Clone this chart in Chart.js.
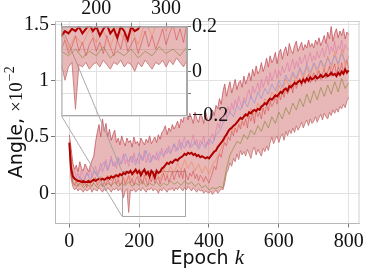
<!DOCTYPE html>
<html><head><meta charset="utf-8">
<script src="https://cdn.jsdelivr.net/npm/chart.js@4.4.0/dist/chart.umd.min.js"></script>
<style>
html,body{margin:0;padding:0;background:#fff;}
#wrap{position:relative;width:366px;height:272px;}
#wrap canvas{position:absolute;left:0;top:0;}
</style></head><body>
<div id="wrap"><canvas id="main" width="366" height="272"></canvas><canvas id="inset" width="366" height="272"></canvas></div>
<script>
// ---------- data (angle, x10^-2); fine series every 5 epochs, coarse runs every 10 epochs ----------
const meanAngle = [
0.45,0.22,0.15,0.13,0.12,0.11,0.11,0.10,0.11,0.10, 0.10,0.11,0.10,0.11,0.12,0.11,0.12,0.13,0.12,0.13,
0.12,0.13,0.14,0.13,0.15,0.14,0.15,0.16,0.15,0.17, 0.16,0.18,0.17,0.19,0.18,0.20,0.17,0.19,0.21,0.18,
0.20,0.16,0.19,0.21,0.17,0.19,0.15,0.20,0.18,0.14, 0.20,0.18,0.19,0.22,0.23,0.25,0.27,0.26,0.28,0.27,
0.29,0.30,0.29,0.31,0.32,0.33,0.35,0.34,0.36,0.35, 0.36,0.34,0.35,0.33,0.34,0.32,0.33,0.32,0.31,0.32,
0.31,0.33,0.35,0.37,0.38,0.41,0.43,0.45,0.47,0.50, 0.52,0.55,0.57,0.58,0.60,0.61,0.63,0.65,0.67,0.66,
0.68,0.70,0.69,0.72,0.71,0.73,0.74,0.73,0.75,0.74, 0.77,0.78,0.80,0.79,0.82,0.84,0.83,0.85,0.87,0.86,
0.88,0.90,0.89,0.92,0.93,0.91,0.95,0.94,0.96,0.98, 0.97,0.99,1.00,0.98,1.01,0.99,1.02,1.00,1.03,1.01,
1.02,1.04,1.02,1.03,1.05,1.03,1.04,1.06,1.04,1.05, 1.07,1.05,1.06,1.04,1.07,1.05,1.08,1.06,1.10,1.07,
1.09];
const upperAngle = [
0.52,0.40,0.27,0.21,0.25,0.19,0.28,0.22,0.20,0.26, 0.23,0.19,0.25,0.29,0.33,0.45,0.54,0.61,0.50,0.66,
0.55,0.62,0.50,0.57,0.47,0.52,0.56,0.45,0.49,0.43, 0.51,0.46,0.42,0.49,0.45,0.47,0.41,0.50,0.44,0.46,
0.42,0.49,0.46,0.43,0.48,0.45,0.51,0.44,0.47,0.50, 0.45,0.52,0.48,0.54,0.56,0.60,0.52,0.58,0.55,0.61,
0.57,0.60,0.64,0.58,0.66,0.63,0.70,0.74,0.65,0.71, 0.67,0.62,0.72,0.66,0.63,0.70,0.68,0.62,0.73,0.66,
0.64,0.70,0.74,0.69,0.78,0.75,0.84,0.79,0.90,0.97, 0.86,0.93,0.99,0.89,0.95,1.01,0.92,0.98,1.00,0.94,
1.04,0.97,1.02,1.07,1.00,1.10,1.04,1.13,1.06,1.09, 1.16,1.08,1.13,1.20,1.12,1.22,1.16,1.19,1.25,1.15,
1.24,1.28,1.19,1.26,1.30,1.22,1.33,1.27,1.24,1.31, 1.35,1.26,1.30,1.34,1.27,1.32,1.29,1.36,1.30,1.33,
1.29,1.36,1.32,1.38,1.31,1.35,1.40,1.33,1.43,1.37, 1.48,1.35,1.42,1.46,1.38,1.44,1.40,1.46,1.37,1.43,
1.41];
const lowerAngle = [
0.40,0.13,0.06,0.03,0.05,0.02,0.04,0.03,0.01,0.04, 0.02,0.03,0.05,0.01,0.04,0.03,0.02,0.05,0.03,0.01,
0.04,0.02,0.05,0.03,0.01,0.04,0.03,0.05,0.02,0.04, 0.03,-0.04,0.02,0.04,-0.17,0.03,0.02,0.04,0.01,0.03,
0.04,0.02,0.05,0.03,0.01,0.04,0.03,0.05,0.02,0.04, 0.03,0.00,0.04,0.02,0.05,0.03,0.01,0.04,0.03,0.05,
0.02,0.05,0.03,0.06,0.04,0.02,0.05,0.03,0.06,0.04, 0.02,0.05,0.03,0.01,0.04,0.02,0.03,0.00,0.02,0.01,
0.00,0.02,-0.01,0.01,0.03,0.00,0.02,0.04,0.03,0.09, 0.18,0.21,0.27,0.24,0.31,0.28,0.35,0.30,0.38,0.34,
0.37,0.33,0.39,0.35,0.31,0.38,0.41,0.34,0.39,0.36, 0.33,0.40,0.37,0.42,0.38,0.45,0.50,0.44,0.48,0.51,
0.45,0.50,0.53,0.47,0.55,0.51,0.56,0.53,0.58,0.54, 0.60,0.56,0.59,0.63,0.58,0.62,0.65,0.60,0.66,0.62,
0.64,0.68,0.63,0.67,0.70,0.65,0.71,0.68,0.66,0.72, 0.69,0.74,0.71,0.75,0.72,0.77,0.75,0.79,0.76,0.82,
0.85];
const runD = [
0.48,0.25,0.17,0.20,0.14,0.18,0.13,0.21,0.16,0.12, 0.19,0.15,0.22,0.14,0.18,0.24,0.17,0.21,0.27,0.19,
0.23,0.30,0.21,0.26,0.33,0.24,0.28,0.22,0.31,0.25, 0.29,0.35,0.26,0.30,0.24,0.33,0.27,0.36,0.28,0.31,
0.26,0.34,0.29,0.38,0.27,0.32,0.36,0.28,0.33,0.30, 0.37,0.29,0.34,0.40,0.32,0.38,0.35,0.42,0.36,0.40,
0.44,0.37,0.41,0.48,0.39,0.45,0.50,0.42,0.47,0.40, 0.46,0.52,0.43,0.48,0.41,0.47,0.44,0.51,0.42,0.46,
0.43,0.49,0.53,0.47,0.56,0.62,0.58,0.67,0.63,0.72, 0.68,0.77,0.71,0.80,0.74,0.83,0.78,0.86,0.80,0.76,
0.85,0.81,0.88,0.92,0.84,0.95,0.89,0.93,0.98,0.90, 1.01,0.94,0.99,1.04,0.96,1.07,1.00,1.05,1.10,1.02,
1.09,1.04,1.13,1.07,1.11,1.16,1.08,1.14,1.19,1.10, 1.17,1.12,1.21,1.15,1.18,1.23,1.14,1.20,1.25,1.17,
1.22,1.18,1.26,1.20,1.24,1.29,1.21,1.27,1.33,1.23, 1.30,1.26,1.35,1.24,1.31,1.28,1.36,1.25,1.32,1.29,
1.27];
const runE = [
0.43,0.16,0.09,0.07,0.11,0.06,0.09,0.13,0.07,0.10, 0.05,0.12,0.08,0.06,0.10,0.14,0.07,0.09,0.12,0.06,
0.10,0.07,0.13,0.09,0.06,0.11,0.15,0.08,0.12,0.07, 0.10,0.14,0.08,0.11,0.16,0.09,0.13,0.07,0.12,0.15,
0.09,0.13,0.08,0.16,0.11,0.07,0.14,0.10,0.17,0.09, 0.12,0.15,0.08,0.13,0.18,0.11,0.16,0.10,0.14,0.19,
0.12,0.17,0.21,0.14,0.19,0.13,0.22,0.16,0.12,0.18, 0.15,0.20,0.13,0.17,0.11,0.16,0.14,0.10,0.15,0.12,
0.09,0.14,0.18,0.24,0.21,0.30,0.35,0.32,0.40,0.45, 0.42,0.50,0.47,0.55,0.51,0.58,0.54,0.61,0.57,0.64,
0.60,0.66,0.58,0.69,0.64,0.71,0.62,0.74,0.68,0.72, 0.66,0.76,0.70,0.79,0.73,0.82,0.77,0.80,0.86,0.79,
0.88,0.83,0.91,0.85,0.94,0.88,0.92,0.97,0.89,1.00, 0.93,0.98,1.02,0.95,1.04,0.97,1.01,1.06,0.98,1.03,
1.07,0.99,1.05,1.09,1.01,1.06,1.11,1.02,1.08,1.13, 1.04,1.10,1.15,1.05,1.12,1.08,1.16,1.06,1.13,1.18,
1.10];
const runA = [
0.42,0.14,0.12,0.15,0.10,0.18,0.12,0.20,0.15,0.22, 0.28,0.20,0.30,0.24,0.32,0.26,0.35,0.28,0.33,0.25,
0.36,0.29,0.38,0.27,0.34,0.30,0.37,0.33,0.40,0.35, 0.44,0.38,0.45,0.40,0.47,0.41,0.46,0.39,0.45,0.40,
0.48,0.44,0.52,0.55,0.62,0.66,0.72,0.68,0.78,0.74, 0.82,0.77,0.86,0.80,0.90,0.84,0.93,0.88,0.97,0.91,
1.00,0.94,1.05,0.99,1.08,1.02,1.12,1.05,1.14,1.07, 1.16,1.10,1.18,1.12,1.20,1.14,1.22,1.15,1.24,1.17,
1.20];
const runB = [
0.47,0.18,0.09,0.13,0.07,0.12,0.08,0.14,0.09,0.15, 0.10,0.16,0.11,0.17,0.12,0.18,0.10,0.16,0.12,0.19,
0.13,0.18,0.11,0.20,0.14,0.19,0.12,0.22,0.16,0.24, 0.18,0.27,0.20,0.30,0.22,0.28,0.20,0.26,0.18,0.24,
0.17,0.25,0.30,0.36,0.44,0.50,0.58,0.55,0.64,0.60, 0.70,0.66,0.75,0.70,0.80,0.74,0.84,0.79,0.90,0.85,
0.96,0.90,1.02,0.95,1.06,0.98,1.10,1.02,1.12,1.04, 1.15,1.06,1.18,1.08,1.22,1.10,1.26,1.12,1.28,1.14,
1.22];
const runC = [
0.44,0.10,0.06,0.09,0.05,0.08,0.06,0.09,0.05,0.08, 0.06,0.09,0.07,0.10,0.06,0.09,0.07,0.10,0.06,0.09,
0.07,0.11,0.06,0.09,0.07,0.10,0.06,0.09,0.07,0.11, 0.08,0.10,0.07,0.11,0.08,0.10,0.06,0.09,0.05,0.07,
0.03,0.05,0.04,0.06,0.05,0.22,0.34,0.40,0.46,0.44, 0.52,0.48,0.56,0.52,0.60,0.55,0.64,0.58,0.68,0.62,
0.72,0.66,0.76,0.70,0.80,0.74,0.84,0.77,0.88,0.80, 0.91,0.83,0.94,0.86,0.96,0.88,0.99,0.90,1.02,0.93,
0.98];
const FINE_STEP = 5, COARSE_STEP = 10;
const xTicksMain = [0, 200, 400, 600, 800];
const xTickLabelsMain = ['0', '200', '400', '600', '800'];
const yTicksMain = [0, 0.5, 1, 1.5];
const yTickLabelsMain = ['0', '0.5', '1', '1.5'];
const xTicksInset = [150, 200, 250, 300];
const xTickLabelsInset = ['', '200', '', '300'];
const yTicksInset = [-0.2, -0.1, 0, 0.1, 0.2];
const yTickLabelsInset = ['\u22120.2', '', '0', '', '0.2'];
const insetX = [150, 330];
const insetY = [-0.2, 0.2];

// ---------- helpers ----------
const epochsFor = (arr, step) => arr.map((_, i) => i * step);
const pts = (arr, step) => epochsFor(arr, step).map((x, i) => ({x: x, y: arr[i]}));

function makeDatasets(clip) {
  const base = {pointRadius: 0, tension: 0, fill: false, clip: clip};
  const line = (arr, step, color, w) => Object.assign({}, base, {data: pts(arr, step), borderColor: color, borderWidth: w});
  return [
    line(meanAngle, FINE_STEP, '#b00000', 2),
    line(runA, COARSE_STEP, 'rgba(150,150,215,0.7)', 1),
    line(runB, COARSE_STEP, 'rgba(238,140,100,0.7)', 1),
    line(runC, COARSE_STEP, 'rgba(140,135,60,0.65)', 1),
    line(runD, FINE_STEP, 'rgba(222,120,170,0.6)', 1),
    line(runE, FINE_STEP, 'rgba(210,60,60,0.5)', 1),
    line(upperAngle, FINE_STEP, 'rgba(195,85,95,0.8)', 1),
    line(lowerAngle, FINE_STEP, 'rgba(195,110,110,0.8)', 1),
    Object.assign({}, base, {data: pts(upperAngle, FINE_STEP), borderWidth: 0, borderColor: 'rgba(0,0,0,0)', fill: '+1', backgroundColor: 'rgba(205,95,95,0.45)'}),
    Object.assign({}, base, {data: pts(lowerAngle, FINE_STEP), borderWidth: 0, borderColor: 'rgba(0,0,0,0)'})
  ];
}

const SERIF = '"Liberation Serif", "Times New Roman", serif';
const SANS = '"DejaVu Sans", sans-serif';
const GRID = '#e2e2e2';
const SPINE = '#b8b8b8';

// ---------- main chart ----------
const mainPlugin = {
  id: 'mainDecor',
  beforeDatasetsDraw(chart) {
    const {ctx, chartArea: a, scales: {x, y}} = chart;
    ctx.save();
    ctx.strokeStyle = '#d0d0d0';
    ctx.lineWidth = 1;
    ctx.beginPath();
    ctx.moveTo(a.left, a.top + 0.5); ctx.lineTo(a.right, a.top + 0.5);
    ctx.moveTo(a.right - 0.5, a.top); ctx.lineTo(a.right - 0.5, a.bottom);
    ctx.stroke();
    const x0 = x.getPixelForValue(insetX[0]), x1 = x.getPixelForValue(insetX[1]);
    const y0 = y.getPixelForValue(insetY[1]), y1 = y.getPixelForValue(insetY[0]);
    ctx.strokeStyle = '#a8a8a8';
    ctx.strokeRect(Math.round(x0) + 0.5, Math.round(y0) + 0.5, Math.round(x1 - x0), Math.round(y1 - y0));
    ctx.restore();
  },
  afterDraw(chart) {
    const {ctx, chartArea: a} = chart;
    ctx.save();
    ctx.fillStyle = '#111';
    ctx.textBaseline = 'alphabetic';
    const fA = '19px ' + SANS, fB = 'italic 21px ' + SERIF;
    ctx.font = fA; const w1 = ctx.measureText('Epoch ').width;
    ctx.font = fB; const w2 = ctx.measureText('k').width;
    let sx = (a.left + a.right) / 2 - (w1 + w2) / 2;
    ctx.font = fA; ctx.fillText('Epoch ', sx, 264);
    ctx.font = fB; ctx.fillText('k', sx + w1, 264);
    const cy = (a.top + a.bottom) / 2;
    ctx.translate(22, cy);
    ctx.rotate(-Math.PI / 2);
    const p1 = 'Angle, ', p2 = '\u00d710', p3 = '\u22122';
    const f1 = '19px ' + SANS, f2 = '19px ' + SERIF, f3 = '14px ' + SERIF;
    ctx.font = f1; const t1 = ctx.measureText(p1).width;
    ctx.font = f2; const t2 = ctx.measureText(p2).width;
    ctx.font = f3; const t3 = ctx.measureText(p3).width;
    let s = -(t1 + t2 + t3 + 1) / 2;
    ctx.font = f1; ctx.fillText(p1, s, 0);
    ctx.font = f2; ctx.fillText(p2, s + t1, 0);
    ctx.font = f3; ctx.fillText(p3, s + t1 + t2 + 1, -8);
    ctx.restore();
  }
};

const mainChart = new Chart(document.getElementById('main'), {
  type: 'line',
  data: {datasets: makeDatasets(undefined)},
  options: {
    responsive: false, animation: false, devicePixelRatio: 1,
    layout: {padding: {left: 0, right: 6.5, top: 21, bottom: 0}},
    plugins: {legend: {display: false}, tooltip: {enabled: false}},
    scales: {
      x: {
        type: 'linear', min: -41, max: 831,
        afterBuildTicks: s => { s.ticks = xTicksMain.map(v => ({value: v})); },
        afterFit: s => { s.height = 48.5; },
        ticks: {autoSkip: false, maxRotation: 0, color: '#111', padding: 2,
                font: {family: SERIF, size: 20}, callback: (v, i) => xTickLabelsMain[i]},
        grid: {color: GRID, tickColor: '#777', tickLength: 4},
        border: {color: SPINE}
      },
      y: {
        type: 'linear', min: -0.268, max: 1.529,
        afterBuildTicks: s => { s.ticks = yTicksMain.map(v => ({value: v})); },
        afterFit: s => { s.width = 55; },
        ticks: {autoSkip: false, color: '#111', padding: 2,
                font: {family: SERIF, size: 20}, callback: (v, i) => yTickLabelsMain[i]},
        grid: {color: GRID, tickColor: '#777', tickLength: 4},
        border: {color: SPINE}
      }
    }
  },
  plugins: [mainPlugin]
});

// ---------- inset chart ----------
const insetPlugin = {
  id: 'insetDecor',
  beforeDraw(chart) {
    const {ctx, chartArea: a} = chart;
    ctx.save();
    ctx.fillStyle = '#fff';
    ctx.fillRect(a.left, a.top, a.right - a.left, a.bottom - a.top);
    ctx.restore();
  },
  beforeDatasetsDraw(chart) {
    const {ctx, chartArea: a} = chart;
    const mx = mainChart.scales.x, my = mainChart.scales.y;
    const rx = mx.getPixelForValue(insetX[0]);
    const ryTop = my.getPixelForValue(insetY[1]);
    const ryBot = my.getPixelForValue(insetY[0]);
    ctx.save();
    ctx.strokeStyle = '#a0a0a0';
    ctx.lineWidth = 0.9;
    ctx.beginPath();
    ctx.moveTo(a.left, a.top); ctx.lineTo(rx, ryTop);
    ctx.moveTo(a.left, a.bottom); ctx.lineTo(rx, ryBot);
    ctx.stroke();
    ctx.restore();
  },
  afterDatasetsDraw(chart) {
    const {ctx, chartArea: a} = chart;
    ctx.save();
    ctx.strokeStyle = '#a8a8a8';
    ctx.lineWidth = 1;
    ctx.strokeRect(a.left + 0.5, a.top + 0.5, a.right - a.left - 1, a.bottom - a.top - 1);
    ctx.restore();
  }
};

const insetChart = new Chart(document.getElementById('inset'), {
  type: 'line',
  data: {datasets: makeDatasets(0)},
  options: {
    responsive: false, animation: false, devicePixelRatio: 1,
    layout: {padding: {left: 61.5, right: 0, top: 0, bottom: 156}},
    plugins: {legend: {display: false}, tooltip: {enabled: false}},
    scales: {
      x: {
        type: 'linear', position: 'top', min: insetX[0], max: insetX[1],
        afterBuildTicks: s => { s.ticks = xTicksInset.map(v => ({value: v})); },
        afterFit: s => { s.height = 26.7; },
        ticks: {autoSkip: false, maxRotation: 0, color: '#111', padding: 2,
                font: {family: SERIF, size: 20}, callback: (v, i) => xTickLabelsInset[i]},
        grid: {color: GRID, tickColor: '#777', tickLength: 4},
        border: {color: '#a8a8a8'}
      },
      y: {
        type: 'linear', position: 'right', min: insetY[0], max: insetY[1],
        afterBuildTicks: s => { s.ticks = yTicksInset.map(v => ({value: v})); },
        afterFit: s => { s.width = 179; },
        ticks: {autoSkip: false, color: '#111', padding: 1,
                font: {family: SERIF, size: 20}, callback: (v, i) => yTickLabelsInset[i]},
        grid: {color: GRID, tickColor: '#777', tickLength: 4},
        border: {color: '#a8a8a8'}
      }
    }
  },
  plugins: [insetPlugin]
});
</script>
</body></html>
